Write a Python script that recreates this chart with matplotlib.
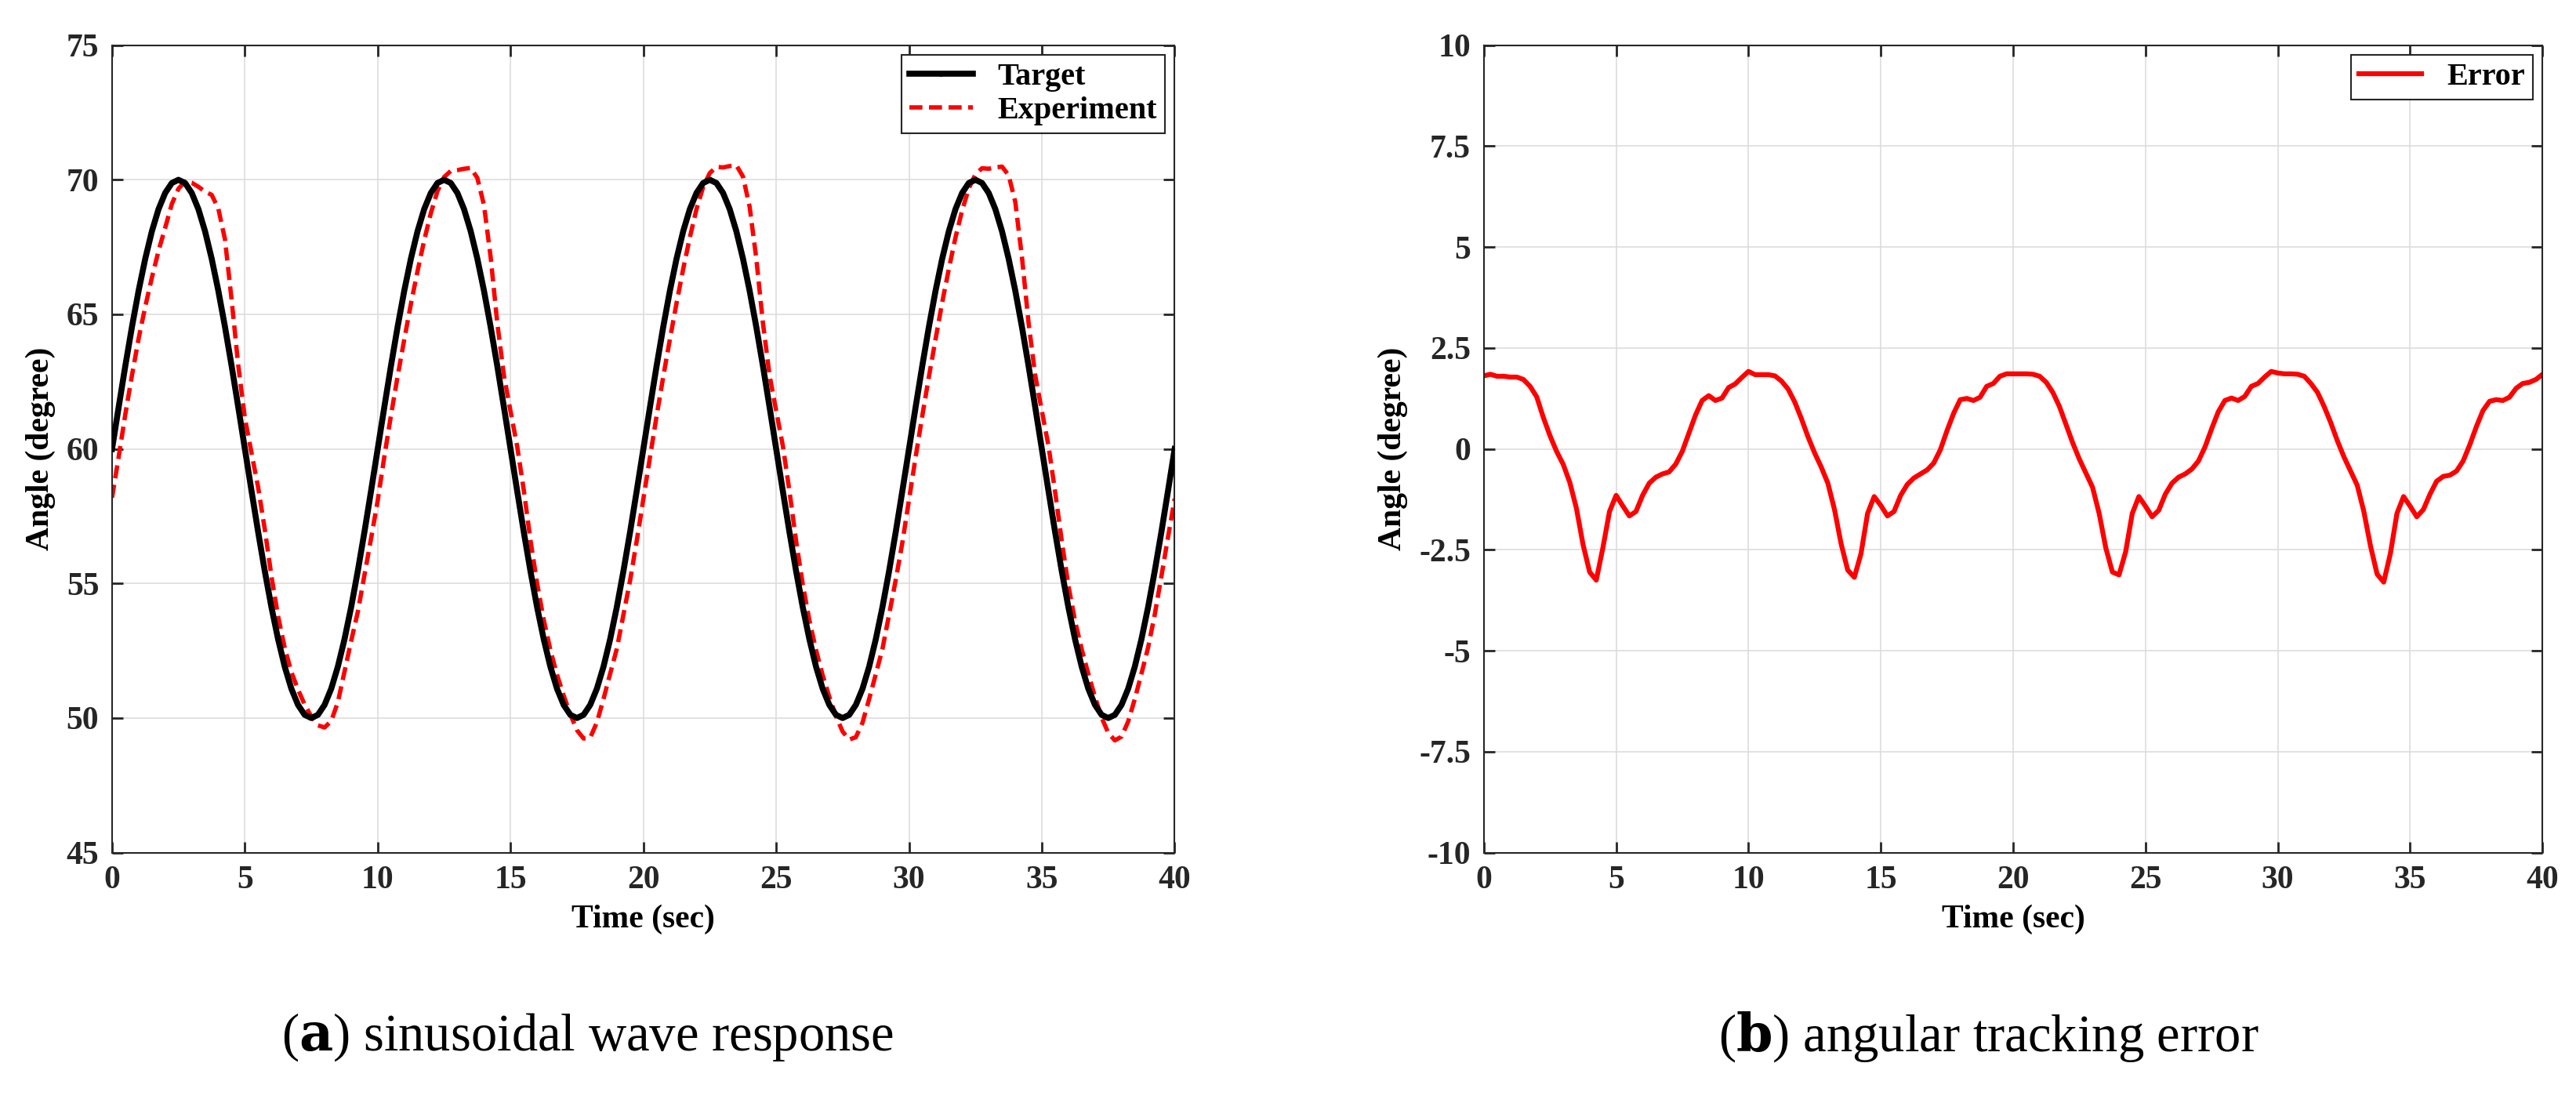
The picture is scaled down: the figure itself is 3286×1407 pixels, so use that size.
import numpy as np
import matplotlib
matplotlib.use("Agg")
import matplotlib.pyplot as plt

# time grid step 0.25 s, one period (10 s) of target readings
target_period = [60, 61.56, 63.09, 64.54, 65.88, 67.07, 68.09, 68.91, 69.51, 69.88,
                 70, 69.88, 69.51, 68.91, 68.09, 67.07, 65.88, 64.54, 63.09, 61.56,
                 60, 58.44, 56.91, 55.46, 54.12, 52.93, 51.91, 51.09, 50.49, 50.12,
                 50, 50.12, 50.49, 51.09, 51.91, 52.93, 54.12, 55.46, 56.91, 58.44]
err_c1 = [1.81, 1.85, 1.80, 1.80, 1.78, 1.78, 1.72, 1.55, 1.29, 0.78, 0.33, -0.06, -0.38, -0.83,
          -1.47, -2.37, -3.05, -3.25, -2.45, -1.55, -1.15, -1.41, -1.66, -1.55, -1.15, -0.85,
          -0.70, -0.62, -0.57, -0.38, -0.06, 0.39, 0.84, 1.20, 1.32, 1.20, 1.26, 1.52, 1.61, 1.77]
err_c2 = [1.92, 1.84, 1.84, 1.84, 1.81, 1.68, 1.48, 1.16, 0.75, 0.30, -0.10, -0.45, -0.85,
          -1.50, -2.35, -3.00, -3.18, -2.60, -1.60, -1.18, -1.40, -1.66, -1.55, -1.15, -0.88,
          -0.72, -0.62, -0.52, -0.35, -0.02, 0.45, 0.88, 1.22, 1.25, 1.20, 1.28, 1.55, 1.62, 1.80, 1.86]
err_c3 = [1.86, 1.86, 1.86, 1.85, 1.80, 1.65, 1.40, 1.05, 0.60, 0.15, -0.25, -0.60, -0.95,
          -1.60, -2.45, -3.05, -3.12, -2.55, -1.60, -1.18, -1.42, -1.68, -1.52, -1.12, -0.85,
          -0.70, -0.62, -0.50, -0.30, 0.05, 0.50, 0.92, 1.20, 1.26, 1.20, 1.30, 1.55, 1.62, 1.78, 1.92]
err_c4 = [1.88, 1.86, 1.86, 1.85, 1.80, 1.62, 1.40, 1.05, 0.65, 0.20, -0.20, -0.55, -0.90,
          -1.55, -2.40, -3.10, -3.30, -2.60, -1.60, -1.18, -1.42, -1.68, -1.50, -1.12, -0.80,
          -0.68, -0.65, -0.55, -0.30, 0.10, 0.55, 0.95, 1.18, 1.22, 1.20, 1.28, 1.50, 1.62, 1.65, 1.72]
err_end = 1.85
target_end = 60

t = np.arange(161) * 0.25
target = np.array(target_period * 4 + [target_end])
err = np.array(err_c1 + err_c2 + err_c3 + err_c4 + [err_end])
experiment = target - err

plt.rcParams['font.family'] = ['Liberation Serif', 'DejaVu Serif']
fig = plt.figure(figsize=(32.86, 14.07), dpi=100)
axL = fig.add_axes([0.0435, 0.227, 0.4125, 0.732])
axR = fig.add_axes([0.576, 0.227, 0.411, 0.732])

axL.plot(t, target, color='black', lw=5.5, marker='.', markersize=1, label='Target', zorder=3)
axL.plot(t, experiment, color='red', lw=4, ls=(0, (3, 1.5)), label='Experiment', zorder=2)
axL.set_ylim(45, 75)
axL.set_yticks(range(45, 76, 5))

axR.plot(t, err, color='red', lw=4.5, label='Error')
axR.set_ylim(-10, 10)
axR.set_yticks(np.arange(-10, 10.1, 2.5))
axR.set_yticklabels(['-10', '-7.5', '-5', '-2.5', '0', '2.5', '5', '7.5', '10'])

for ax in (axL, axR):
    ax.set_xlim(0, 40)
    ax.set_xticks(range(0, 41, 5))
    ax.grid(True, color='#dddddd', lw=1.2)
    ax.tick_params(direction='in', top=True, right=True, length=10, width=2,
                   labelsize=30, colors='#262626', pad=12)
    for lab in ax.get_xticklabels() + ax.get_yticklabels():
        lab.set_fontweight('bold')
    for s in ax.spines.values():
        s.set_linewidth(1.5)
        s.set_color('#262626')
    ax.set_xlabel('Time (sec)', fontsize=30, fontweight='bold', labelpad=8)
    ax.set_ylabel('Angle (degree)', fontsize=30, fontweight='bold', labelpad=10)
    leg = ax.legend(loc='upper right', prop={'weight': 'bold', 'size': 29},
                    fancybox=False, edgecolor='#262626', framealpha=1,
                    borderaxespad=0.3, handlelength=2.0, borderpad=0.25, labelspacing=0.15,
                    markerscale=8)
    leg.get_frame().set_linewidth(1.5)

fig.text(0.228, 0.06, r'($\mathbf{a}$) sinusoidal wave response', fontsize=48,
         ha='center', va='center', math_fontfamily='dejavuserif')
fig.text(0.772, 0.06, r'($\mathbf{b}$) angular tracking error', fontsize=48,
         ha='center', va='center', math_fontfamily='dejavuserif')

fig.savefig('out.png', dpi=100)
